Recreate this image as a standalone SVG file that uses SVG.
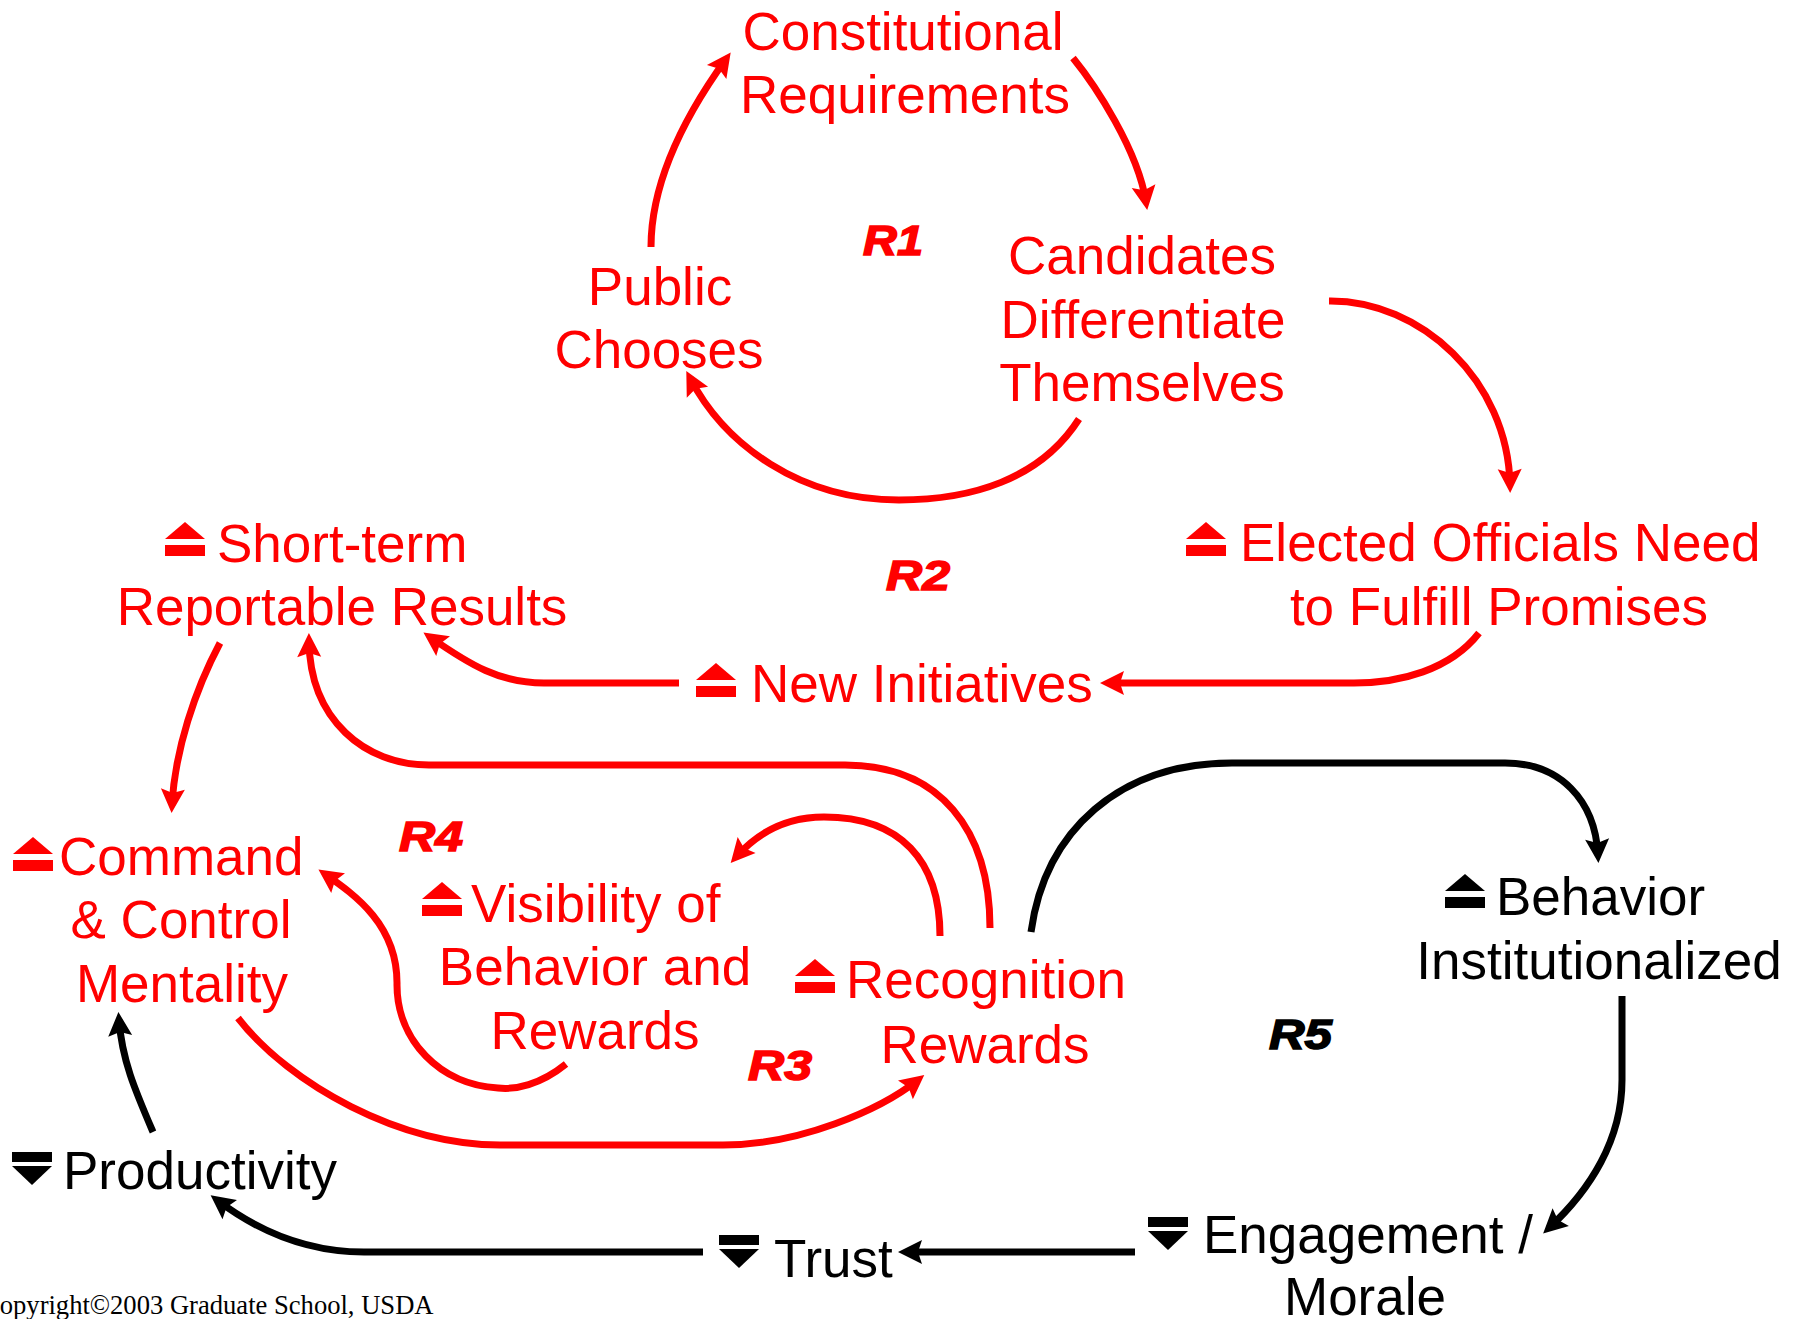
<svg xmlns="http://www.w3.org/2000/svg" xmlns:xlink="http://www.w3.org/1999/xlink" width="1800" height="1319" viewBox="0 0 1800 1319">
<style>
.t{font-family:"Liberation Sans",Arial,sans-serif;font-size:53px}
.r{fill:#FF0000}
.k{fill:#000}
.m{text-anchor:middle}
.lp{font-family:"Liberation Sans",Arial,sans-serif;font-size:42px;font-weight:bold;font-style:italic;stroke-width:1.5}
.cr{stroke:#FF0000;fill:none;stroke-width:7;marker-end:url(#ar)}
.ck{stroke:#000;fill:none;stroke-width:7;marker-end:url(#ak)}
.cp{font-family:"Liberation Serif","Times New Roman",serif;font-size:26.6px;fill:#000}
</style>
<defs>
<marker id="ar" markerUnits="userSpaceOnUse" markerWidth="40" markerHeight="40" viewBox="-20 -20 40 40" refX="0" refY="0" orient="auto" overflow="visible">
<path d="M8,0 L-16,-12 L-12,0 L-16,12 Z" fill="#FF0000"/>
</marker>
<marker id="ak" markerUnits="userSpaceOnUse" markerWidth="40" markerHeight="40" viewBox="-20 -20 40 40" refX="0" refY="0" orient="auto" overflow="visible">
<path d="M8,0 L-16,-12 L-12,0 L-16,12 Z" fill="#000"/>
</marker>
<g id="up"><polygon points="20,0 40,17 0,17"/><rect x="0" y="23" width="40" height="11"/></g>
<g id="dn"><rect x="0" y="0" width="40" height="10"/><polygon points="0,14 40,14 20,33"/></g>
</defs>
<rect width="1800" height="1319" fill="#fff"/>

<g id="connectors">
<path class="cr" d="M651,247 C651,170 700,95 726,59"/>
<path class="cr" d="M1073,58 C1095,85 1138,150 1146,202"/>
<path class="cr" d="M1079,419 C1040,480 970,500 899,500 C800,500 725,445 690,378"/>
<path class="cr" d="M1329,301 C1420,300 1508,380 1510,485"/>
<path class="cr" d="M1479,633 C1450,670 1400,683 1354,683 L1108,683"/>
<path class="cr" d="M679,683 L544,683 C500,683 470,665 430,637"/>
<path class="cr" d="M990,928 C990,830 940,765 845,765 L429,765 C365,765 310,720 309,641"/>
<path class="cr" d="M220,643 C195,690 175,750 172,805"/>
<path class="cr" d="M566,1064 C540,1085 515,1090 498,1088 C440,1085 397,1040 397,985 C398,925 355,895 325,874"/>
<path class="cr" d="M238,1018 C290,1085 400,1145 500,1145 L723,1145 C800,1145 880,1110 918,1080"/>
<path class="cr" d="M940,936 C940,860 900,817 824,817 C788,817 760,830 736,857"/>
<path class="ck" d="M1031,932 C1045,830 1120,763 1232,763 L1505,763 C1560,763 1595,800 1598,855"/>
<path class="ck" d="M1622,996 L1622,1080 C1622,1140 1590,1190 1549,1228"/>
<path class="ck" d="M1135,1252 L906,1252"/>
<path class="ck" d="M703,1252 L364,1252 C300,1252 250,1225 217,1200"/>
<path class="ck" d="M153,1132 C135,1090 122,1060 119,1020"/>
</g>

<g id="n-constitutional" class="t r">
<text class="m" x="903" y="50">Constitutional</text>
<text class="m" x="905" y="113">Requirements</text>
</g>
<g id="n-public" class="t r">
<text class="m" x="660" y="305">Public</text>
<text class="m" x="659" y="368">Chooses</text>
</g>
<g id="n-candidates" class="t r">
<text class="m" x="1142" y="274">Candidates</text>
<text class="m" x="1143" y="338">Differentiate</text>
<text class="m" x="1142" y="401">Themselves</text>
</g>
<g id="n-shortterm" class="t r">
<use xlink:href="#up" x="165" y="522"/>
<text x="217" y="562">Short-term</text>
<text class="m" x="342" y="625">Reportable Results</text>
</g>
<g id="n-elected" class="t r">
<use xlink:href="#up" x="1186" y="522"/>
<text x="1240" y="561">Elected Officials Need</text>
<text class="m" x="1499" y="625">to Fulfill Promises</text>
</g>
<g id="n-newinit" class="t r">
<use xlink:href="#up" x="696" y="663"/>
<text x="751" y="702">New Initiatives</text>
</g>
<g id="n-command" class="t r">
<use xlink:href="#up" x="13" y="837"/>
<text x="59" y="875">Command</text>
<text class="m" x="181" y="938">&amp; Control</text>
<text class="m" x="182" y="1002">Mentality</text>
</g>
<g id="n-visibility" class="t r">
<use xlink:href="#up" x="422" y="882"/>
<text x="471" y="922">Visibility of</text>
<text class="m" x="595" y="985">Behavior and</text>
<text class="m" x="595" y="1049">Rewards</text>
</g>
<g id="n-recognition" class="t r">
<use xlink:href="#up" x="795" y="959"/>
<text x="846" y="998">Recognition</text>
<text class="m" x="985" y="1063">Rewards</text>
</g>
<g id="n-behavior" class="t k">
<use xlink:href="#up" x="1445" y="874"/>
<text x="1496" y="915">Behavior</text>
<text class="m" x="1599" y="979">Institutionalized</text>
</g>
<g id="n-engagement" class="t k">
<use xlink:href="#dn" x="1148" y="1217"/>
<text x="1203" y="1253">Engagement /</text>
<text class="m" x="1365" y="1315">Morale</text>
</g>
<g id="n-trust" class="t k">
<use xlink:href="#dn" x="719" y="1235"/>
<text x="774" y="1277">Trust</text>
</g>
<g id="n-productivity" class="t k">
<use xlink:href="#dn" x="12" y="1152"/>
<text x="63" y="1189">Productivity</text>
</g>

<g id="loop-labels">
<text class="lp r" stroke="#FF0000" x="863" y="255" textLength="60" lengthAdjust="spacingAndGlyphs">R1</text>
<text class="lp r" stroke="#FF0000" x="886" y="590" textLength="64" lengthAdjust="spacingAndGlyphs">R2</text>
<text class="lp r" stroke="#FF0000" x="748" y="1080" textLength="64" lengthAdjust="spacingAndGlyphs">R3</text>
<text class="lp r" stroke="#FF0000" x="399" y="851" textLength="64" lengthAdjust="spacingAndGlyphs">R4</text>
<text class="lp k" stroke="#000" x="1269" y="1049" textLength="63" lengthAdjust="spacingAndGlyphs">R5</text>
</g>

<text class="cp" x="-18" y="1314">Copyright©2003 Graduate School, USDA</text>
</svg>
